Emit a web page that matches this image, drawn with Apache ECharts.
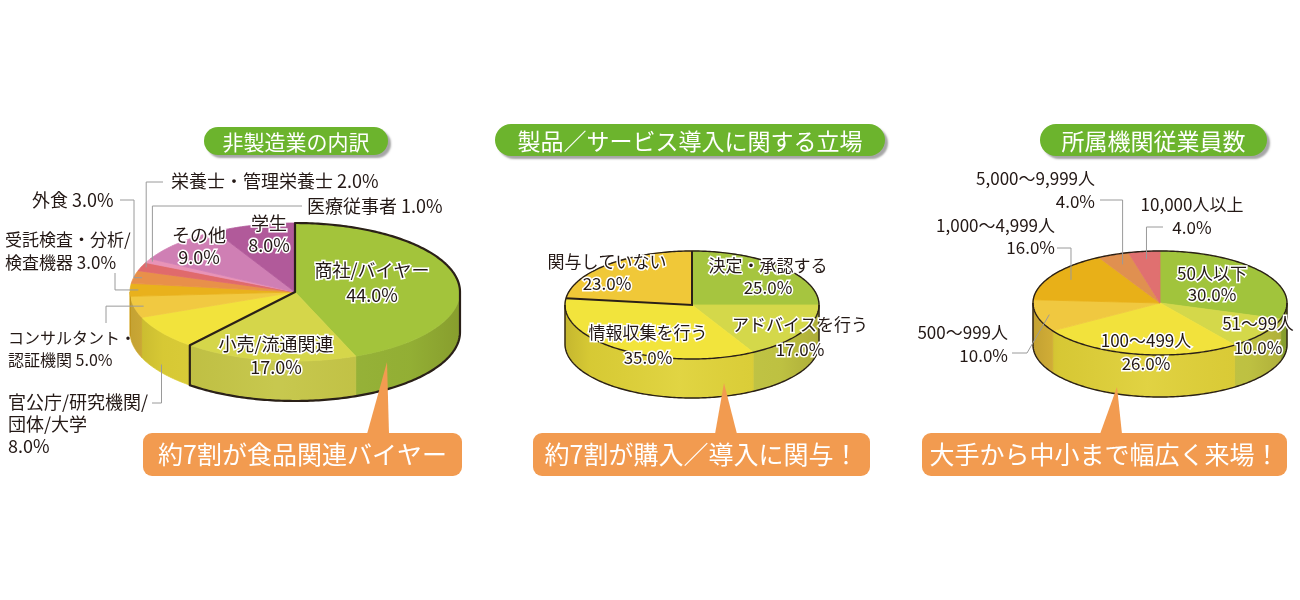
<!DOCTYPE html>
<html><head><meta charset="utf-8">
<script src="https://cdn.jsdelivr.net/npm/echarts/dist/echarts.min.js"></script>
<style>html,body{margin:0;padding:0;background:#fff}#c{width:1300px;height:600px}</style>
</head><body><div id="c"></div>
<script>
// ---------------- data ----------------
const pie1Names = ['商社/バイヤー','小売/流通関連','官公庁/研究機関/\n団体/大学','コンサルタント・\n認証機関','受託検査・分析/\n検査機器','外食','栄養士・管理栄養士','医療従事者','その他','学生'];
const pie1Values = [44,17,8,5,3,3,2,1,9,8];
const pie2Names = ['決定・承認する','アドバイスを行う','情報収集を行う','関与していない'];
const pie2Values = [25,17,35,23];
const pie3Names = ['50人以下','51～99人','100～499人','500～999人','1,000～4,999人','5,000～9,999人','10,000人以上'];
const pie3Values = [30,10,26,10,16,4,4];
const titles = ['非製造業の内訳','製品／サービス導入に関する立場','所属機関従業員数'];
const callouts = ['約7割が食品関連バイヤー','約7割が購入／導入に関与！','大手から中小まで幅広く来場！'];

// ---------------- styles / layout ----------------
const FONT = '"Noto Sans CJK JP","Noto Sans CJK SC","Noto Sans",sans-serif';
const pie1Colors = ['#a3c43b','#d5d64a','#f2e33c','#f1c941','#e9b11c','#e8904a','#e06a6c','#e893b8','#cf7fb4','#b15a9a'];
const pie2Colors = ['#a6c53f','#d4d84a','#f2e43c','#f0c838'];
const pie3Colors = ['#a1c43c','#d4d84a','#f2e23c','#f0c840','#e8b018','#e09050','#e07070'];

const pie1Labels = [
  {x:372,y:283,align:'center',inside:true,lh:25},
  {x:276,y:356,align:'center',inside:true},
  {x:8,y:424,align:'left',lh:22,lead:{pts:[[152,403]],mode:'x',k:1,dy:32}},
  {x:8,y:349,align:'left',inline:true,lh:22,fs:16,lead:{pts:[[106,323]],mode:'y',k:0.94}},
  {x:5,y:251,align:'left',inline:true,lh:23,fs:17,lead:{pts:[[115,273]],mode:'y',k:0.95}},
  {x:32,y:200,align:'left',inline:true,lead:{pts:[[120,200],[134,200]],mode:'y',k:0.95}},
  {x:171,y:181,align:'left',inline:true,lead:{pts:[[163,182]],mode:'x',k:0.97}},
  {x:307,y:206,align:'left',inline:true,lead:{pts:[[302,206]],mode:'x',k:0.97}},
  {x:199,y:246,align:'center',inside:true,lh:22},
  {x:269,y:234,align:'center',inside:true,lh:22}
];
const pie2Labels = [
  {x:768,y:277,align:'center',inside:true,lh:22},
  {x:800,y:337,align:'center',inside:true,lh:25},
  {x:648,y:345,align:'center',inside:true,lh:25},
  {x:607,y:273,align:'center',inside:true,lh:22}
];
const pie3Labels = [
  {x:1212,y:284,align:'center',inside:true,lh:21},
  {x:1258,y:336,align:'center',inside:true,lh:24},
  {x:1146,y:352,align:'center',inside:true,lh:23},
  {x:1008,y:344,align:'right',lh:23,lead:{pts:[[1012,353],[1027,353]],mode:'d',k:0.9}},
  {x:1055,y:237,align:'right',lh:22,lead:{pts:[[1057,248]],mode:'x',k:0.83}},
  {x:1095,y:190,align:'right',lh:23,lead:{pts:[[1100,200]],mode:'x',k:0.8}},
  {x:1192,y:216,align:'center',lh:23,lead:{pts:[[1163,227]],mode:'x',k:0.85}}
];

const PIES = [
  {names:pie1Names, values:pie1Values, colors:pie1Colors, labels:pie1Labels, fs:18, cx:295, cy:292, rx:165, ry:69, depth:40,
   outline:'none', hl:{from:0,to:2}},
  {names:pie2Names, values:pie2Values, colors:pie2Colors, labels:pie2Labels, fs:17, cx:692, cy:305, rx:127, ry:54, depth:39,
   outline:'full', sectorHl:3},
  {names:pie3Names, values:pie3Values, colors:pie3Colors, labels:pie3Labels, fs:17, cx:1160, cy:303, rx:127, ry:52, depth:42,
   outline:'full'}
];
const pillLayout = [
  {x:204,y:127,w:184,h:28,fs:21},
  {x:495,y:124,w:390,h:32,fs:23},
  {x:1040,y:124,w:227,h:32,fs:23}
];
const calloutLayout = [
  {x:143,y:433,w:319,h:43,tri:[[367,434],[389,434],[387,362]]},
  {x:533,y:433,w:337,h:43,tri:[[715,434],[737,434],[724,383]]},
  {x:922,y:433,w:365,h:43,tri:[[1100,434],[1122,434],[1117,387]]}
];

// ---------------- geometry helpers ----------------
function pt(g,t,k,dy){const a=t*2*Math.PI;k=(k==null?1:k);return [g.cx+g.rx*k*Math.sin(a), g.cy-g.ry*k*Math.cos(a)+(dy||0)];}
function arc(g,t0,t1,dy){const n=Math.max(2,Math.ceil((t1-t0)*360));const o=[];for(let j=0;j<=n;j++)o.push(pt(g,t0+(t1-t0)*j/n,1,dy));return o;}
function shade(hex,f){const n=parseInt(hex.slice(1),16);const c=[n>>16,(n>>8)&255,n&255].map(v=>Math.max(0,Math.min(255,Math.round(v*(1+f)))));return 'rgb('+c.join(',')+')';}
function sum(a){return a.reduce((s,v)=>s+v,0);}
function before(vals,i){let s=0;for(let j=0;j<i;j++)s+=vals[j];return s;}

function pieSeries(p){
  const total=sum(p.values);
  return {
    type:'custom', coordinateSystem:'none', silent:true, z:2,
    data:p.values.map((v,i)=>[i,v]),
    renderItem:(params,api)=>{
      const i=api.value(0), v=api.value(1);
      const b0=before(p.values,i);
      const t0=b0/total, t1=(b0+v)/total;
      const col=p.colors[i], side=shade(col,-0.08);
      const ch=[];
      const a=Math.max(t0,0.25), b=Math.min(t1,0.75);
      if(b>a){
        const top=arc(p,a,b,0), bot=arc(p,a,b,p.depth).reverse();
        ch.push({type:'polygon',shape:{points:top.concat(bot)},style:{fill:side,stroke:side,lineWidth:0.8}});
      }
      ch.push({type:'polygon',shape:{points:[[p.cx,p.cy]].concat(arc(p,t0,t1,0))},style:{fill:col,stroke:col,lineWidth:0.8}});
      return {type:'group',children:ch};
    }
  };
}

function decoSeries(p){
  const total=sum(p.values);
  return {
    type:'custom', coordinateSystem:'none', silent:true, z:3, data:[[0]],
    renderItem:()=>{
      const ch=[];
      const top=arc(p,0.25,0.75,0), bot=arc(p,0.25,0.75,p.depth).reverse();
      ch.push({type:'polygon',shape:{points:top.concat(bot)},style:{fill:{type:'linear',x:0,y:0,x2:1,y2:0,colorStops:[
        {offset:0,color:'rgba(60,40,0,0.16)'},{offset:0.1,color:'rgba(60,40,0,0.05)'},
        {offset:0.45,color:'rgba(255,255,255,0.06)'},{offset:0.85,color:'rgba(60,40,0,0.04)'},{offset:1,color:'rgba(60,40,0,0.16)'}]}}});
      const dark='#2a2018';
      if(p.outline==='full'){
        ch.push({type:'polygon',shape:{points:arc(p,0,1,0)},style:{fill:null,stroke:dark,lineWidth:1.4}});
        const sideLine=[pt(p,0.25)].concat(arc(p,0.25,0.75,p.depth)).concat([pt(p,0.75)]);
        ch.push({type:'polyline',shape:{points:sideLine},style:{fill:null,stroke:dark,lineWidth:1.4}});
      }
      if(p.hl){
        const tA=before(p.values,p.hl.from)/total, tB=before(p.values,p.hl.to)/total;
        const pts=[[p.cx,p.cy]].concat(arc(p,tA,0.25,0)).concat(arc(p,0.25,tB,p.depth)).concat([pt(p,tB)]);
        ch.push({type:'polygon',shape:{points:pts},style:{fill:null,stroke:dark,lineWidth:2.2,lineJoin:'round'}});
      }
      if(p.sectorHl!=null){
        const i=p.sectorHl;
        const tA=before(p.values,i)/total, tB=(before(p.values,i)+p.values[i])/total;
        const pts=[pt(p,tA),[p.cx,p.cy],pt(p,tB)];
        ch.push({type:'polyline',shape:{points:pts},style:{fill:null,stroke:dark,lineWidth:2}});
      }
      return {type:'group',children:ch};
    }
  };
}

// ---------------- graphics (titles, callouts, labels) ----------------
const elements=[];
titles.forEach((t,i)=>{
  const L=pillLayout[i];
  elements.push({type:'rect',z:5,shape:{x:L.x,y:L.y,width:L.w,height:L.h,r:L.h/2},
    style:{fill:'#6cb42d',shadowBlur:2,shadowOffsetX:3,shadowOffsetY:3,shadowColor:'rgba(0,0,0,0.35)'}});
  elements.push({type:'text',z:6,style:{text:t,x:L.x+L.w/2,y:L.y+L.h/2+1,fill:'#ffffff',fontSize:L.fs,fontFamily:FONT,
    textAlign:'center',verticalAlign:'middle',textVerticalAlign:'middle'}});
});
callouts.forEach((t,i)=>{
  const L=calloutLayout[i];
  elements.push({type:'polygon',z:30,shape:{points:L.tri},style:{fill:'#f29b50'}});
  elements.push({type:'rect',z:30,shape:{x:L.x,y:L.y,width:L.w,height:L.h,r:9},style:{fill:'#f29b50'}});
  elements.push({type:'text',z:31,style:{text:t,x:L.x+L.w/2,y:L.y+L.h/2,fill:'#ffffff',fontSize:25,fontFamily:FONT,
    textAlign:'center',verticalAlign:'middle',textVerticalAlign:'middle'}});
});
PIES.forEach(p=>{
  const total=sum(p.values);
  p.labels.forEach((L,i)=>{
    const text=p.names[i]+(L.inline?' ':'\n')+p.values[i].toFixed(1)+'%';
    const st={text:text,x:L.x,y:L.y,fill:'#231815',fontSize:L.fs||p.fs,fontFamily:FONT,textAlign:L.align,
      verticalAlign:'middle',textVerticalAlign:'middle',lineHeight:L.lh||23};
    if(L.inside){st.stroke='#ffffff';st.lineWidth=3;}
    elements.push({type:'text',z:20,style:st});
    if(L.lead){
      const mid=(before(p.values,i)+p.values[i]/2)/total;
      const anc=pt(p,mid,L.lead.k,L.lead.dy||0);
      const pts=L.lead.pts.slice();
      const last=pts[pts.length-1];
      if(L.lead.mode==='x')pts.push([anc[0],last[1]]);
      else if(L.lead.mode==='y')pts.push([last[0],anc[1]]);
      pts.push(anc);
      elements.push({type:'polyline',z:15,shape:{points:pts},style:{stroke:'#9a9a9a',lineWidth:1,fill:null}});
    }
  });
});

const chart=echarts.init(document.getElementById('c'),null,{renderer:'canvas'});
const series=[];
PIES.forEach(p=>{series.push(pieSeries(p));series.push(decoSeries(p));});
chart.setOption({
  animation:false,
  backgroundColor:'#ffffff',
  series:series,
  graphic:{elements:elements}
});
</script>
</body></html>
